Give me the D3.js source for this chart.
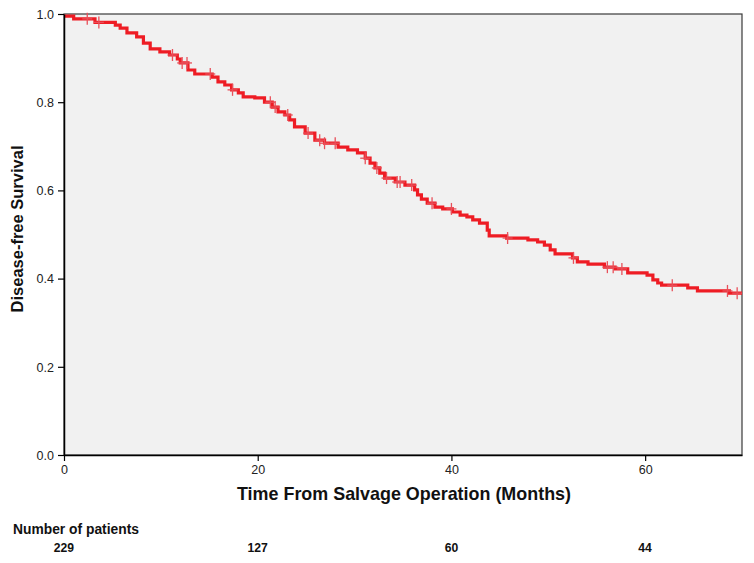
<!DOCTYPE html>
<html><head><meta charset="utf-8">
<script src="https://cdn.jsdelivr.net/npm/d3@7"></script>
<style>body{margin:0;background:#fff}svg{display:block}</style>
</head><body>
<svg id="c" width="754" height="563"></svg>
<script>
// Kaplan-Meier step points: time (months) and survival after each step
const stepTimes = [0,1.0,3.2,5.3,5.8,6.5,7.5,8.2,8.9,9.9,10.9,11.7,12.0,12.8,13.5,15.3,15.9,16.6,17.3,18.0,18.5,19.7,20.7,21.5,22.1,22.8,23.3,23.8,24.9,25.9,26.9,28.3,29.3,30.3,31.1,31.6,32.1,32.6,33.1,34.2,35.2,36.2,36.5,36.9,37.5,38.3,39.1,40.1,40.9,41.6,42.2,42.9,43.7,43.9,45.7,47.9,48.9,49.6,50.2,50.7,52.5,53.0,54.1,55.8,56.9,58.2,60.2,60.8,61.3,61.7,64.4,65.4,68.7];
const stepSurv = [0.995,0.989,0.981,0.975,0.968,0.957,0.948,0.934,0.921,0.914,0.907,0.898,0.889,0.873,0.864,0.857,0.846,0.839,0.828,0.821,0.812,0.810,0.800,0.789,0.778,0.771,0.760,0.744,0.730,0.714,0.707,0.698,0.692,0.685,0.673,0.662,0.651,0.639,0.628,0.619,0.612,0.601,0.590,0.580,0.571,0.562,0.558,0.551,0.544,0.540,0.533,0.526,0.510,0.497,0.492,0.488,0.483,0.476,0.465,0.456,0.447,0.438,0.433,0.426,0.422,0.413,0.408,0.397,0.390,0.385,0.379,0.372,0.367];
const censorTimes = [2.4,3.6,11.2,12.2,12.7,15.1,17.4,21.3,21.8,23.1,25.2,26.4,26.9,28.0,31.1,32.3,33.3,34.4,34.7,35.9,38.0,40.0,45.8,52.6,56.1,56.7,57.6,62.8,68.5,69.5];
const xTicks = [0,20,40,60];
const yTicks = [0.0,0.2,0.4,0.6,0.8,1.0];
const riskTimes = [0,20,40,60];
const riskCounts = [229,127,60,44];
const maxTime = 70;

const svg = d3.select("#c");
const L=64,R=742,T=14,B=455;
const x = d3.scaleLinear().domain([0,maxTime]).range([L,R]);
const y = d3.scaleLinear().domain([0,1]).range([B,T]);

svg.append("rect").attr("x",L).attr("y",T).attr("width",R-L).attr("height",B-T)
  .attr("fill","#f1f1f1").attr("stroke","#3a3a3a").attr("stroke-width",1.2);

// step curve
const pts = stepTimes.map((t,i)=>[t,stepSurv[i]]);
pts.push([maxTime, stepSurv[stepSurv.length-1]]);
const line = d3.line().x(d=>x(d[0])).y(d=>y(d[1])).curve(d3.curveStepAfter);
svg.append("path").datum(pts).attr("d",line).attr("fill","none")
  .attr("stroke","#ee1c24").attr("stroke-width",3.2);

function survAt(t){let s=stepSurv[0];for(let i=0;i<stepTimes.length;i++){if(stepTimes[i]<=t)s=stepSurv[i];}return s;}
const cg = svg.append("g").attr("stroke","#e8505a").attr("stroke-width",1.3);
censorTimes.forEach(t=>{
  const cx=x(t), cy=y(survAt(t));
  cg.append("line").attr("x1",cx).attr("x2",cx).attr("y1",cy-6).attr("y2",cy+6);
  cg.append("line").attr("x1",cx-5).attr("x2",cx+5).attr("y1",cy).attr("y2",cy);
});

// axes
const yAxis = d3.axisLeft(y).tickValues(yTicks).tickFormat(d3.format(".1f")).tickSize(6).tickSizeOuter(0);
const gy = svg.append("g").attr("transform",`translate(${L},0)`).call(yAxis);
const xAxis = d3.axisBottom(x).tickValues(xTicks).tickFormat(d3.format("d")).tickSize(6).tickSizeOuter(0);
const gx = svg.append("g").attr("transform",`translate(0,${B})`).call(xAxis);
[gx,gy].forEach(g=>{
  g.select(".domain").attr("stroke","#000").attr("stroke-width",1.5);
  g.selectAll(".tick line").attr("stroke","#000").attr("stroke-width",1.2);
  g.selectAll("text").attr("font-family","Liberation Sans, Arial, sans-serif").attr("font-size",12.5).attr("fill","#222");
});
gx.selectAll("text").attr("dy","0.8em");
gy.selectAll("text").attr("dx","-1").attr("dy","0.35em");

svg.append("text").attr("x",(L+R)/2 + 1).attr("y",500).attr("text-anchor","middle")
  .attr("font-family","Liberation Sans, Arial, sans-serif").attr("font-weight","bold").attr("font-size",19)
  .attr("textLength",334).attr("lengthAdjust","spacingAndGlyphs")
  .attr("fill","#111").text("Time From Salvage Operation (Months)");
svg.append("text").attr("transform","translate(23,229) rotate(-90)").attr("text-anchor","middle")
  .attr("font-family","Liberation Sans, Arial, sans-serif").attr("font-weight","bold").attr("font-size",16.5)
  .attr("fill","#111").text("Disease-free Survival");

svg.append("text").attr("x",13).attr("y",534)
  .attr("font-family","Liberation Sans, Arial, sans-serif").attr("font-weight","bold").attr("font-size",14)
  .attr("textLength",126).attr("lengthAdjust","spacingAndGlyphs")
  .attr("fill","#111").text("Number  of  patients");
svg.selectAll(".risk").data(riskCounts).enter().append("text").attr("class","risk")
  .attr("x",(d,i)=>x(riskTimes[i])).attr("y",552).attr("text-anchor","middle")
  .attr("font-family","Liberation Sans, Arial, sans-serif").attr("font-weight","bold").attr("font-size",13.5)
  .attr("transform",(d,i)=>`translate(${x(riskTimes[i])*0.1},0) scale(0.9,1)`)
  .attr("fill","#111").text(d=>d);
</script>
</body></html>
